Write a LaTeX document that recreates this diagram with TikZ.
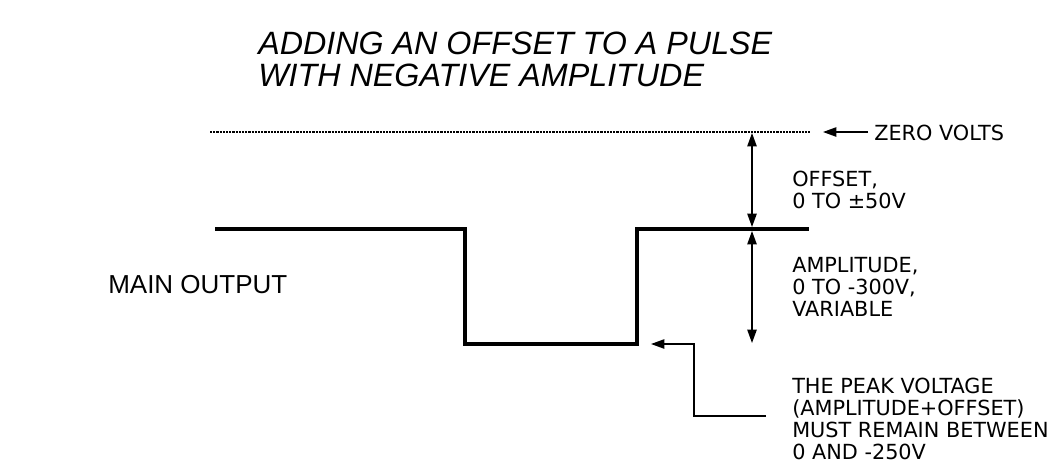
\documentclass[tikz,border=0pt]{standalone}
\usepackage{fontspec}
\setmainfont{Liberation Sans}
\newfontfamily\lblfont{DejaVu Sans}
\usetikzlibrary{arrows.meta}
\begin{document}
\begin{tikzpicture}[x=0.75pt,y=-0.75pt,
  thin/.style={line width=1.1pt},
  pulse/.style={line width=3pt,line join=miter},
  tip/.style={-{Triangle[length=10pt,width=7pt]}},
  dtip/.style={{Triangle[length=10pt,width=7pt]}-{Triangle[length=10pt,width=7pt]}},
  lbl/.style={inner sep=0pt,anchor=north west,align=left,font=\lblfont\fontsize{15.6}{16.5}\selectfont},
  ttl/.style={inner sep=0pt,anchor=base west,font=\itshape\fontsize{24.2}{26}\selectfont}]
\useasboundingbox (0,0) rectangle (1053,465);
% title
\node[ttl] (t1) at (258,54.5) {ADDING AN OFFSET TO A PULSE};
\node[ttl] (t2) at (258,86.5) {WITH NEGATIVE AMPLITUDE};
% main output
\node[inner sep=0pt,anchor=base west,font=\fontsize{19.5}{22}\selectfont] (mo) at (108,293.3) {MAIN OUTPUT};
% zero line
\coordinate (z0) at (210,132);
\coordinate (z1) at (810,132);
\draw[line width=1pt,dash pattern=on 1.6pt off 0.8pt] (z0) -- (z1);
\coordinate (za) at (868,132);
\coordinate (zb) at (823,132);
\draw[thin,tip] (za) -- (zb);
\node[lbl,anchor=west] (zv) at (874,133) {ZERO VOLTS};
% pulse
\coordinate (p0) at (215,229);
\coordinate (p1) at (465,229);
\coordinate (p2) at (465,344);
\coordinate (p3) at (637,344);
\coordinate (p4) at (637,229);
\coordinate (p5) at (809,229);
\draw[pulse] (p0) -- (p1) -- (p2) -- (p3) -- (p4) -- (p5);
% offset arrow
\coordinate (oa) at (752,133);
\coordinate (ob) at (752,227);
\draw[thin,dtip] (oa) -- (ob);
\node[lbl] (off) at (792,170.4) {OFFSET,\\0 TO ±50V};
% amplitude arrow
\coordinate (aa) at (752,231);
\coordinate (ab) at (752,343);
\draw[thin,dtip] (aa) -- (ab);
\node[lbl] (amp) at (792,257.4) {AMPLITUDE,\\0 TO -300V,\\VARIABLE};
% peak arrow
\coordinate (k0) at (766,416);
\coordinate (k1) at (694,416);
\coordinate (k2) at (694,344);
\coordinate (k3) at (651,344);
\draw[thin,tip] (k0) -- (k1) -- (k2) -- (k3);
\node[lbl] (pk) at (792,377.4) {THE PEAK VOLTAGE\\(AMPLITUDE+OFFSET)\\MUST REMAIN BETWEEN\\0 AND -250V};
\end{tikzpicture}
\end{document}
